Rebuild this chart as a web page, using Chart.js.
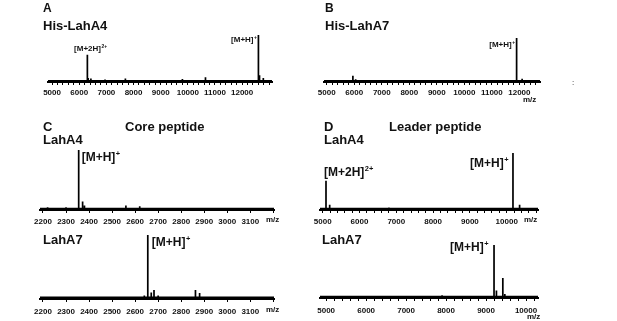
<!DOCTYPE html>
<html>
<head>
<meta charset="utf-8">
<script src="https://cdn.jsdelivr.net/npm/chart.js@4/dist/chart.umd.min.js"></script>
<style>
body { margin: 0; background: #fff; width: 617px; height: 321px; overflow: hidden; position: relative; font-family: Arial, "Liberation Sans", sans-serif; }
canvas { position: absolute; left: 0; top: 0; }
.t { position: absolute; font-weight: bold; color: #111; white-space: nowrap; line-height: 1; }
</style>
</head>
<body>
<canvas id="pa" width="617" height="321"></canvas>
<canvas id="pb" width="617" height="321"></canvas>
<canvas id="pc1" width="617" height="321"></canvas>
<canvas id="pd1" width="617" height="321"></canvas>
<canvas id="pc2" width="617" height="321"></canvas>
<canvas id="pd2" width="617" height="321"></canvas>

<div class="t" style="left:43px;top:2px;font-size:12px">A</div>
<div class="t" style="left:43px;top:19px;font-size:13px">His-LahA4</div>
<div class="t" style="left:325px;top:2px;font-size:12px">B</div>
<div class="t" style="left:325px;top:19px;font-size:13px">His-LahA7</div>
<div class="t" style="left:43px;top:120px;font-size:13px">C</div>
<div class="t" style="left:125px;top:120px;font-size:13px">Core peptide</div>
<div class="t" style="left:43px;top:133px;font-size:13px">LahA4</div>
<div class="t" style="left:324px;top:120px;font-size:13px">D</div>
<div class="t" style="left:389px;top:120px;font-size:13px">Leader peptide</div>
<div class="t" style="left:324px;top:133px;font-size:13px">LahA4</div>
<div class="t" style="left:43px;top:233px;font-size:13px">LahA7</div>
<div class="t" style="left:322px;top:233px;font-size:13px">LahA7</div>
<div class="t" style="left:523px;top:96px;font-size:8px">m/z</div>
<div class="t" style="left:266px;top:216px;font-size:8px">m/z</div>
<div class="t" style="left:524px;top:216px;font-size:8px">m/z</div>
<div class="t" style="left:266px;top:306px;font-size:8px">m/z</div>
<div class="t" style="left:527px;top:313px;font-size:8px">m/z</div>
<div class="t" style="left:572px;top:79px;font-size:8px;font-weight:normal">:</div>

<script>
// A: His-LahA4
const aMz  = [5300, 5700, 6300, 6330, 6430, 6950, 7700, 8400, 9800, 10650, 11150, 12600, 12640, 12780];
const aInt = [0.02, 0.02, 0.57, 0.06, 0.05, 0.03, 0.05, 0.02, 0.04, 0.08, 0.02, 1.0, 0.12, 0.06];
// B: His-LahA7
const bMz  = [5950, 6050, 11900, 12100];
const bInt = [0.12, 0.04, 1.0, 0.05];
// C: core peptide, LahA4 / LahA7
const c1Mz  = [2220, 2300, 2355, 2372, 2380, 2560, 2620];
const c1Int = [0.02, 0.02, 1.0, 0.12, 0.05, 0.05, 0.04];
const c2Mz  = [2640, 2655, 2670, 2682, 2700, 2862, 2880];
const c2Int = [0.03, 1.0, 0.08, 0.12, 0.03, 0.12, 0.07];
// D: leader peptide, LahA4 / LahA7
const d1Mz  = [5090, 5190, 6800, 10170, 10350];
const d1Int = [0.5, 0.07, 0.02, 1.0, 0.07];
const d2Mz  = [7900, 8600, 9200, 9260, 9420, 9470];
const d2Int = [0.03, 0.02, 1.0, 0.12, 0.36, 0.05];

function spectrum(mz, inten, min, max) {
    const pts = [{x: min, y: 0}];
    mz.forEach((m, i) => {
        pts.push({x: m, y: 0}, {x: m, y: inten[i]}, {x: m, y: 0});
    });
    pts.push({x: max, y: 0});
    return pts;
}

const peakLabels = {
    id: 'peakLabels',
    afterDatasetsDraw(chart, args, opts) {
        const ctx = chart.ctx;
        const xs = chart.scales.x;
        (opts.items || []).forEach(it => {
            const size = it.size;
            const supSize = size * 0.62;
            ctx.save();
            ctx.fillStyle = '#111';
            ctx.textBaseline = 'alphabetic';
            ctx.font = 'bold ' + size + 'px Arial, "Liberation Sans", sans-serif';
            const w1 = ctx.measureText(it.text).width;
            ctx.font = 'bold ' + supSize + 'px Arial, "Liberation Sans", sans-serif';
            const w2 = ctx.measureText(it.sup).width;
            let x = xs.getPixelForValue(it.mz) + it.dx;
            if (it.align === 'right') x -= (w1 + w2);
            if (it.align === 'center') x -= (w1 + w2) / 2;
            const y = it.y + size * 0.36;
            ctx.font = 'bold ' + size + 'px Arial, "Liberation Sans", sans-serif';
            ctx.fillText(it.text, x, y);
            ctx.font = 'bold ' + supSize + 'px Arial, "Liberation Sans", sans-serif';
            ctx.fillText(it.sup, x + w1 + 0.5, y - size * 0.42);
            ctx.restore();
        });
    }
};

function makePanel(id, p) {
    new Chart(document.getElementById(id).getContext('2d'), {
        type: 'line',
        data: {
            datasets: [{
                data: spectrum(p.mz, p.inten, p.min, p.max),
                borderColor: '#000',
                borderWidth: 1.7,
                pointRadius: 0,
                tension: 0,
                fill: false
            }]
        },
        options: {
            responsive: false,
            animation: false,
            events: [],
            layout: {
                padding: {left: p.left, right: 617 - p.right, top: p.top, bottom: 321 - p.base - 16}
            },
            plugins: {
                legend: {display: false},
                tooltip: {enabled: false},
                peakLabels: {items: p.labels}
            },
            scales: {
                x: {
                    type: 'linear',
                    min: p.min,
                    max: p.max,
                    afterFit(scale) {
                        scale.height = 16;
                        scale.paddingLeft = 0;
                        scale.paddingRight = 0;
                    },
                    border: {display: true, color: '#000', width: 2},
                    grid: {drawOnChartArea: false, drawTicks: true, tickLength: 3, tickColor: '#000', tickWidth: 1},
                    ticks: {
                        stepSize: p.step,
                        includeBounds: false,
                        autoSkip: false,
                        maxRotation: 0,
                        padding: p.pad,
                        color: '#111',
                        font: {family: 'Arial, "Liberation Sans", sans-serif', size: 8, weight: 'bold'},
                        callback: v => (Math.abs(v % p.every) < 1e-6 && v <= p.last ? String(Math.round(v)) : '')
                    }
                },
                y: {display: false, min: -0.025, max: 1}
            }
        },
        plugins: [peakLabels]
    });
}

makePanel('pa', {
    mz: aMz, inten: aInt, min: 4850, max: 13100, step: 200, every: 1000, last: 12000,
    left: 48, right: 272, top: 35, base: 82, pad: 3,
    labels: [
        {mz: 6300, text: '[M+2H]', sup: '2+', dx: 3, y: 48, align: 'center', size: 8},
        {mz: 12600, text: '[M+H]', sup: '+', dx: -2, y: 39, align: 'right', size: 8}
    ]
});
makePanel('pb', {
    mz: bMz, inten: bInt, min: 4900, max: 12750, step: 200, every: 1000, last: 12000,
    left: 324, right: 540, top: 38, base: 82, pad: 3,
    labels: [
        {mz: 11900, text: '[M+H]', sup: '+', dx: -2, y: 44, align: 'right', size: 8}
    ]
});
makePanel('pc1', {
    mz: c1Mz, inten: c1Int, min: 2187, max: 3203, step: 100, every: 100, last: 3100,
    left: 40, right: 274, top: 150, base: 210, pad: 4,
    labels: [
        {mz: 2355, text: '[M+H]', sup: '+', dx: 3, y: 157, align: 'left', size: 12}
    ]
});
makePanel('pd1', {
    mz: d1Mz, inten: d1Int, min: 4927, max: 10850, step: 200, every: 1000, last: 10000,
    left: 320, right: 538, top: 153, base: 210, pad: 4,
    labels: [
        {mz: 5090, text: '[M+2H]', sup: '2+', dx: -2, y: 172, align: 'left', size: 12},
        {mz: 10170, text: '[M+H]', sup: '+', dx: -5, y: 163, align: 'right', size: 12}
    ]
});
makePanel('pc2', {
    mz: c2Mz, inten: c2Int, min: 2187, max: 3203, step: 100, every: 100, last: 3100,
    left: 40, right: 274, top: 235, base: 299, pad: 5,
    labels: [
        {mz: 2655, text: '[M+H]', sup: '+', dx: 4, y: 242, align: 'left', size: 12}
    ]
});
makePanel('pd2', {
    mz: d2Mz, inten: d2Int, min: 4846, max: 10300, step: 200, every: 1000, last: 10000,
    left: 320, right: 538, top: 245, base: 298, pad: 5,
    labels: [
        {mz: 9200, text: '[M+H]', sup: '+', dx: -6, y: 247, align: 'right', size: 12}
    ]
});
</script>
</body>
</html>
